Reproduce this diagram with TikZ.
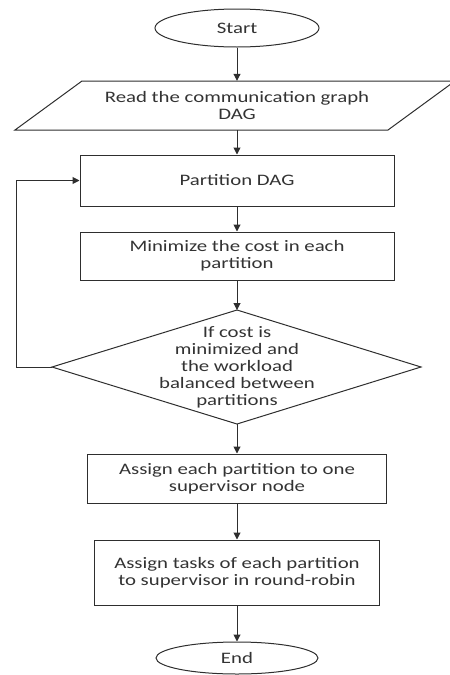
\documentclass[tikz,border=0pt]{standalone}
\usepackage{fontspec}
\setmainfont[FakeStretch=1.3]{Carlito}
\usetikzlibrary{shapes.geometric,arrows.meta}
\definecolor{ln}{HTML}{2E2E2E}
\definecolor{tx}{HTML}{333333}
\begin{document}
\begin{tikzpicture}[x=1pt,y=-1pt,
  every node/.style={font=\fontsize{16}{17}\selectfont, text=tx, align=center, inner sep=0pt},
  boxnode/.style={draw=ln, line width=1pt, rectangle},
  ovalnode/.style={draw=ln, line width=1pt, ellipse},
  arr/.style={draw=ln, line width=1pt, -{Triangle[length=7pt,width=7pt]}},
  ]
\useasboundingbox (0,0) rectangle (450,675);
\node[ovalnode, minimum width=164pt, minimum height=38pt] (start) at (237,28) {Start};
% parallelogram
\coordinate (p1) at (82,81);
\coordinate (p2) at (455,81);
\coordinate (p3) at (388,130);
\coordinate (p4) at (15,130);
\draw[ln, line width=1pt] (p1) -- (p2) -- (p3) -- (p4) -- cycle;
\node[minimum width=300pt, minimum height=49pt] (read) at (237,105.5) {Read the communication graph\\DAG};
\node[boxnode, minimum width=314pt, minimum height=51pt] (part) at (237,180.5) {Partition DAG};
\node[boxnode, minimum width=314pt, minimum height=48pt] (mini) at (237,256) {Minimize the cost in each\\partition};
% decision diamond
\coordinate (dtop) at (237,310);
\coordinate (dright) at (421,367);
\coordinate (dbot) at (237,424);
\coordinate (dleft) at (52,367);
\draw[ln, line width=1pt] (dtop) -- (dright) -- (dbot) -- (dleft) -- cycle;
\node (dia) at (237,367.5) {If cost is\\minimized and\\the workload\\balanced between\\partitions};
\node[boxnode, minimum width=299pt, minimum height=49pt] (as1) at (237,478.5) {Assign each partition to one\\supervisor node};
\node[boxnode, minimum width=285pt, minimum height=65pt] (as2) at (237,572.5) {Assign tasks of each partition\\to supervisor in round-robin};
\node[ovalnode, minimum width=162pt, minimum height=32pt] (end) at (237,658) {End};
\coordinate (lp) at (16,367);
\draw[arr] (start.south) -- (read.north);
\draw[arr] (read.south) -- (part.north);
\draw[arr] (part.south) -- (mini.north);
\draw[arr] (mini.south) -- (dtop);
\draw[arr] (dbot) -- (as1.north);
\draw[arr] (as1.south) -- (as2.north);
\draw[arr] (as2.south) -- (end.north);
\draw[arr] (dleft) -- (lp) |- (part.west);
\end{tikzpicture}
\end{document}
